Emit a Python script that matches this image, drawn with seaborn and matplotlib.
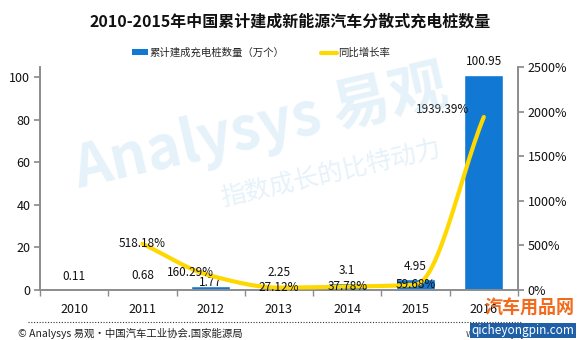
import numpy as np
import pandas as pd
import matplotlib
matplotlib.use("Agg")
import matplotlib.pyplot as plt
import seaborn as sns
from matplotlib.patches import Patch
from matplotlib.lines import Line2D

years = ["2010", "2011", "2012", "2013", "2014", "2015", "2016"]
piles = [0.11, 0.68, 1.77, 2.25, 3.1, 4.95, 100.95]
growth_years = ["2011", "2012", "2013", "2014", "2015", "2016"]
growth = [518.18, 160.29, 27.12, 37.78, 59.68, 1939.39]
pile_labels = ["0.11", "0.68", "1.77", "2.25", "3.1", "4.95", "100.95"]
growth_labels = ["518.18%", "160.29%", "27.12%", "37.78%", "59.68%", "1939.39%"]

title = "2010-2015年中国累计建成新能源汽车分散式充电桩数量"
bar_name = "累计建成充电桩数量（万个）"
line_name = "同比增长率"
source = "© Analysys 易观·中国汽车工业协会.国家能源局"

BLUE = "#1179D3"
YELLOW = "#FFD800"
GRAY = "#8C8C8C"

sns.set_theme(style="white")
plt.rcParams["font.family"] = ["Noto Sans CJK SC", "DejaVu Sans"]

fig = plt.figure(figsize=(5.8, 3.4), dpi=100)
ax = fig.add_axes([0.069, 0.147, 0.824, 0.656])

df = pd.DataFrame({"year": years, "piles": piles})
sns.barplot(data=df, x="year", y="piles", color=BLUE, width=0.57,
            saturation=1, ax=ax, zorder=2)
ax.set_xlim(-0.5, 6.5)
ax.set_ylim(0, 104.7)
ax.set_yticks([0, 20, 40, 60, 80, 100])
ax.set_xlabel("")
ax.set_ylabel("")

# bar value labels
offsets = [13, 13, 4, 13, 13, 13, 13]
for i, (v, lab) in enumerate(zip(piles, pile_labels)):
    ax.annotate(lab, (i, v), xytext=(0, offsets[i]), textcoords="offset pixels",
                ha="center", va="center", fontsize=8.5, color="#111111", zorder=6)

# growth line on twin axis (monotone cubic smoothing like Excel's smooth line)
ax2 = ax.twinx()
ax2.set_ylim(0, 2500)
ax2.set_yticks(np.arange(0, 2501, 500))
ax2.set_yticklabels([f"{t}%" for t in range(0, 2501, 500)])
xs = np.array([years.index(y) for y in growth_years], dtype=float)
ys = np.array(growth, dtype=float)

def pchip(x, y, n=30):
    h = np.diff(x)
    d = np.diff(y) / h
    m = np.zeros_like(y)
    m[0], m[-1] = d[0], d[-1]
    for k in range(1, len(y) - 1):
        if d[k - 1] * d[k] > 0:
            w1 = 2 * h[k] + h[k - 1]
            w2 = h[k] + 2 * h[k - 1]
            m[k] = (w1 + w2) / (w1 / d[k - 1] + w2 / d[k])
    px, py = [], []
    for k in range(len(x) - 1):
        t = np.linspace(0, 1, n, endpoint=(k == len(x) - 2))
        h00 = 2 * t**3 - 3 * t**2 + 1
        h10 = t**3 - 2 * t**2 + t
        h01 = -2 * t**3 + 3 * t**2
        h11 = t**3 - t**2
        px.append(x[k] + t * h[k])
        py.append(h00 * y[k] + h10 * h[k] * m[k] + h01 * y[k + 1] + h11 * h[k] * m[k + 1])
    return np.concatenate(px), np.concatenate(py)

sx, sy = pchip(xs, ys)
sns.lineplot(x=sx, y=sy, ax=ax2, color=YELLOW, linewidth=3, sort=False,
             estimator=None, zorder=3)

g_off = [(0, 0), (-20, 3), (0, 0), (0, 0), (0, 0), (-41, 7)]
for (x, y), lab, off in zip(zip(xs, ys), growth_labels, g_off):
    ax2.annotate(lab, (x, y), xytext=off, textcoords="offset pixels",
                 ha="center", va="center", fontsize=8.5, color="#111111", zorder=7)

# axes styling
for a in (ax, ax2):
    a.spines["top"].set_visible(False)
    for s in ("left", "bottom", "right"):
        a.spines[s].set_color(GRAY)
        a.spines[s].set_linewidth(1.2)
    a.set_facecolor("none")
ax.tick_params(axis="y", which="major", left=True, length=4, color=GRAY,
               labelsize=9, pad=3, labelcolor="#111111")
ax2.tick_params(axis="y", right=True, length=4, color=GRAY, labelsize=9,
                pad=3, labelcolor="#111111")
ax.set_xticks(range(len(years)))
ax.set_xticklabels(years)
ax.set_xticks(np.arange(-0.5, 7, 1), minor=True)
ax.tick_params(axis="x", which="major", length=0, labelsize=9, pad=9,
               labelcolor="#111111")
ax.tick_params(axis="x", which="minor", bottom=True, length=4, color=GRAY)
for lbl in ax.get_xticklabels() + ax.get_yticklabels() + ax2.get_yticklabels():
    lbl.set_fontweight("medium")
ax.grid(False)
ax2.grid(False)

# title, legend, footer
fig.text(0.5, 0.935, title, ha="center", va="center", fontsize=11.5,
         fontweight="bold", color="#111111")
handles = [Patch(facecolor=BLUE, edgecolor="none"),
           Line2D([0], [0], color=YELLOW, linewidth=3)]
fig.legend(handles, [bar_name, line_name], loc="center", bbox_to_anchor=(0.45, 0.845),
           ncol=2, frameon=False, fontsize=7.5, handlelength=1.6, handleheight=0.5,
           columnspacing=3.5, handletextpad=0.1)

fig.add_artist(Line2D([0.048, 0.9], [0.053, 0.053], transform=fig.transFigure,
                      color="#333333", linewidth=0.8, linestyle=(0, (1, 1.5))))
fig.text(0.031, 0.018, source, ha="left", va="center", fontsize=7.5, color="#222222")
fig.text(0.94, 0.018, "www.analysys.cn", ha="right", va="center", fontsize=7,
         color="#444444")

# watermarks
fig.text(0.45, 0.62, "Analysys 易观", ha="center", va="center", fontsize=42,
         color="#9CCBEA", alpha=0.25, rotation=13, fontweight="semibold", zorder=0)
fig.text(0.57, 0.49, "指数成长的比特动力", ha="center", va="center", fontsize=18,
         color="#9CCBEA", alpha=0.25, rotation=13, zorder=0)
fig.text(0.99, 0.095, "汽车用品网", ha="right", va="center", fontsize=13,
         color="#F26A1B", fontweight="bold", zorder=10)
fig.text(0.99, 0.028, "qicheyongpin.com", ha="right", va="center", fontsize=8.5,
         color="white", zorder=10,
         bbox=dict(facecolor="#1F5FA8", edgecolor="none", pad=1))

fig.savefig("out.png", dpi=100)
